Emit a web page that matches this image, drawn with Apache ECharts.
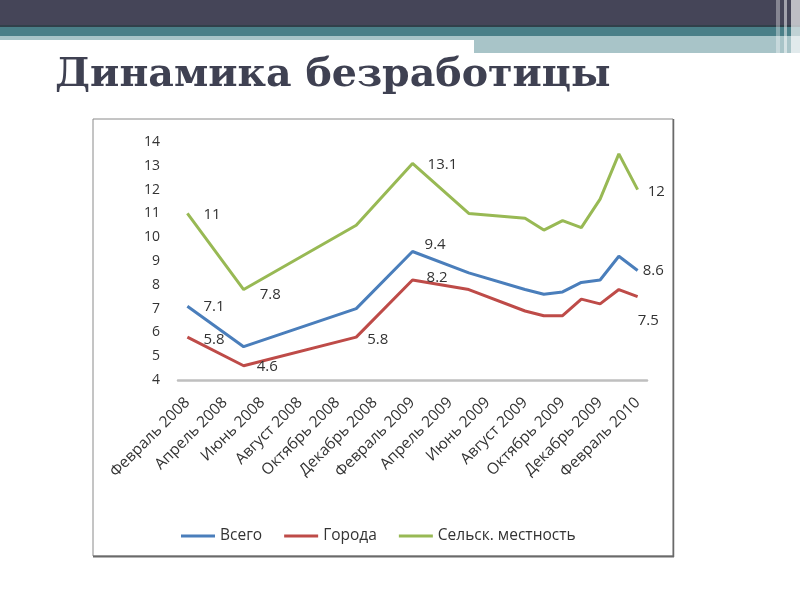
<!DOCTYPE html>
<html><head><meta charset="utf-8">
<script src="https://cdn.jsdelivr.net/npm/echarts@6/dist/echarts.min.js"></script>
<style>html,body{margin:0;padding:0;background:#fff}#c{width:800px;height:600px}</style>
</head><body><div id="c"></div>
<script>
const months = ['Февраль 2008','Март 2008','Апрель 2008','Май 2008','Июнь 2008','Июль 2008','Август 2008','Сентябрь 2008','Октябрь 2008','Ноябрь 2008','Декабрь 2008','Январь 2009','Февраль 2009','Март 2009','Апрель 2009','Май 2009','Июнь 2009','Июль 2009','Август 2009','Сентябрь 2009','Октябрь 2009','Ноябрь 2009','Декабрь 2009','Январь 2010','Февраль 2010'];
const seriesNames = ['Всего','Города','Сельск. местность'];
const total  = [7.1,null,null,5.4,null,null,null,null,null,7.0,null,null,9.4,null,null,8.5,null,null,7.8,7.6,7.7,8.1,8.2,9.2,8.6];
const cities = [5.8,null,null,4.6,null,null,null,null,null,5.8,null,null,8.2,null,null,7.8,null,null,6.9,6.7,6.7,7.4,7.2,7.8,7.5];
const rural  = [11,null,null,7.8,null,null,null,null,null,10.5,null,null,13.1,null,null,11.0,null,null,10.8,10.3,10.7,10.4,11.6,13.5,12];
const yTicks = [4,14,1];

const colors = ['#4a7ebb','#be4b48','#98b954'];
// label offsets [dx, dy] relative to the point, per series: index -> offset
const labelOffsets = [
  {0:[16,1], 12:[12,-7], 24:[5,0]},
  {0:[16,3], 3:[13,1], 9:[11,3], 12:[14,-2], 24:[0,24]},
  {0:[16,1], 3:[16,5], 12:[15,1], 24:[10,2]}
];
const allData = [total, cities, rural];
const font = 'Open Sans';
const txt = '#333333';

function buildData(arr, offs){
  return arr.map((v,i)=>{
    if (v === null) return null;
    if (offs[i]) return {value:v, label:{show:true, position:'right', distance:0, offset:offs[i],
      formatter: String(v), color:txt, fontSize:15, fontFamily:font}};
    return {value:v};
  });
}

const chart = echarts.init(document.getElementById('c'), null, {renderer:'canvas'});
chart.setOption({
  animation:false,
  backgroundColor:'#fff',
  graphic:[
    {type:'rect', shape:{x:0,y:0,width:800,height:25}, style:{fill:'#454558'}, z:-1},
    {type:'rect', shape:{x:0,y:25,width:800,height:2}, style:{fill:'#31404a'}, z:-1},
    {type:'rect', shape:{x:0,y:27,width:800,height:9}, style:{fill:'#4a7f88'}, z:-1},
    {type:'rect', shape:{x:0,y:36,width:474,height:4}, style:{fill:'#a8c4c8'}, z:-1},
    {type:'rect', shape:{x:474,y:36,width:326,height:17}, style:{fill:'#a8c4c8'}, z:-1},
    {type:'rect', shape:{x:776,y:0,width:4,height:53}, style:{fill:'rgba(255,255,255,0.35)'}, z:0},
    {type:'rect', shape:{x:784,y:0,width:3,height:53}, style:{fill:'rgba(255,255,255,0.5)'}, z:0},
    {type:'rect', shape:{x:791,y:0,width:9,height:53}, style:{fill:'rgba(255,255,255,0.65)'}, z:0},
    {type:'text', x:55, y:56, style:{text:'Динамика безработицы', font:'bold 39.5px "DejaVu Serif"', fill:'#3f4152', verticalAlign:'top'}},
    {type:'rect', shape:{x:93,y:119,width:580,height:437}, style:{fill:'none', stroke:'#8a8a8a', lineWidth:1}},
    {type:'line', shape:{x1:93,y1:556.5,x2:674,y2:556.5}, style:{stroke:'#6a6a6a', lineWidth:2}},
    {type:'line', shape:{x1:673.5,y1:119,x2:673.5,y2:557}, style:{stroke:'#6a6a6a', lineWidth:1.5}}
  ],
  grid:{left:178, top:142, width:469, height:238},
  xAxis:{type:'category', data:months, boundaryGap:true,
     axisLine:{show:true, lineStyle:{color:'#bfbfbf', width:2.5}}, axisTick:{show:false}, splitLine:{show:false},
     axisLabel:{show:true, interval:1, rotate:45, margin:20, color:txt, fontSize:15.5, fontFamily:font}},
  yAxis:{type:'value', min:yTicks[0], max:yTicks[1], interval:yTicks[2],
     axisLine:{show:false}, axisTick:{show:false}, splitLine:{show:false},
     axisLabel:{margin:18, color:txt, fontSize:14, fontFamily:font}},
  legend:{
    left:176, top:523, itemWidth:34, itemHeight:3, itemGap:22, icon:'rect',
    textStyle:{color:txt, fontSize:15.5, fontFamily:font, padding:[0,0,0,0]},
    data:seriesNames
  },
  series: allData.map((arr,k)=>({
    name:seriesNames[k], type:'line',
    data:buildData(arr, labelOffsets[k]), connectNulls:true,
    showSymbol:true, symbol:'circle', symbolSize:0.1,
    lineStyle:{color:colors[k], width:3}, itemStyle:{color:colors[k]},
    label:{show:false}, emphasis:{disabled:true}
  }))
});
</script></body></html>
